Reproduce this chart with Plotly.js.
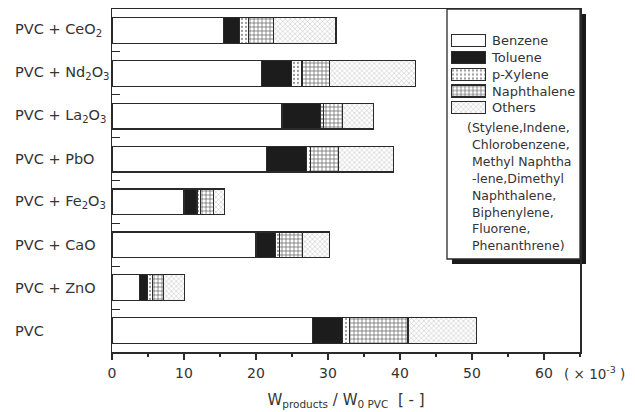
<!DOCTYPE html>
<html>
<head>
<meta charset="utf-8">
<script src="https://cdn.plot.ly/plotly-3.0.1.min.js"></script>
<style>html,body{margin:0;padding:0;background:#fff;}#chart{width:635px;height:412px;}</style>
</head>
<body>
<div id="chart"></div>
<script>
const categories = ["PVC + CeO<sub>2</sub>", "PVC + Nd<sub>2</sub>O<sub>3</sub>", "PVC + La<sub>2</sub>O<sub>3</sub>", "PVC + PbO", "PVC + Fe<sub>2</sub>O<sub>3</sub>", "PVC + CaO", "PVC + ZnO", "PVC"];
const benzene     = [15.5, 20.8, 23.6, 21.5, 10.0, 20.0, 3.8, 27.8];
const toluene     = [2.2, 4.1, 5.4, 5.5, 1.8, 2.7, 1.1, 4.2];
const pxylene     = [1.3, 1.5, 0.4, 0.6, 0.5, 0.6, 0.7, 1.0];
const naphthalene = [3.4, 3.8, 2.6, 3.9, 1.8, 3.2, 1.6, 8.1];
const others      = [8.7, 11.9, 4.3, 7.6, 1.5, 3.7, 2.9, 9.5];
const seriesNames = ["Benzene", "Toluene", "p-Xylene", "Naphthalene", "Others"];
const othersNote = ["(Stylene,Indene,", "Chlorobenzene,", "Methyl Naphtha", "-lene,Dimethyl", "Naphthalene,", "Biphenylene,", "Fluorene,", "Phenanthrene)"];
const xTickVals = [0, 10, 20, 30, 40, 50, 60];

const FONT = "DejaVu Sans, Arial, sans-serif";
const INK = "#2a2a2a";
const TXT = "#333";

const styles = [
  {color: "#ffffff", pattern: {shape: ""}},
  {color: "#1c1c1c", pattern: {shape: ""}},
  {color: "#ffffff", pattern: {shape: ".", fgcolor: "#9a9a9a", bgcolor: "#ffffff", size: 4, solidity: 0.25}},
  {color: "#ffffff", pattern: {shape: "+", fgcolor: "#555", bgcolor: "#ffffff", size: 4, solidity: 0.3}},
  {color: "#ffffff", pattern: {shape: "x", fgcolor: "#a8a8a8", bgcolor: "#ffffff", size: 3.5, solidity: 0.22}}
];
const seriesValues = [benzene, toluene, pxylene, naphthalene, others];

const traces = seriesValues.map((vals, i) => ({
  type: "bar",
  orientation: "h",
  name: seriesNames[i],
  y: categories,
  x: vals,
  width: 0.6,
  marker: {
    color: styles[i].color,
    pattern: styles[i].pattern,
    line: {color: INK, width: 1.2}
  },
  showlegend: false,
  hoverinfo: "x+name"
}));

// legend key: one full-width swatch per series on a small inset axis pair
seriesNames.forEach((name, i) => {
  traces.push({
    type: "bar", orientation: "h", xaxis: "x2", yaxis: "y2",
    y: [name], x: [1], width: 0.72,
    marker: {color: styles[i].color, pattern: styles[i].pattern, line: {color: INK, width: 1.2}},
    showlegend: false, hoverinfo: "skip"
  });
});

const L = 112, R = 580, T = 9, B = 352;
const W = R - L, H = B - T;
const px = v => (v - L) / W;
const py = v => 1 - (v - T) / H;

const annotations = categories.map(c => ({
  xref: "paper", yref: "y", x: px(13), y: c, xanchor: "left", yanchor: "middle",
  text: c, showarrow: false, font: {family: FONT, size: 14.5, color: TXT}
}));
othersNote.forEach((line, i) => {
  annotations.push({
    xref: "paper", yref: "paper", x: px(i === 0 ? 465 : 470), y: py(128 + i * 16.8),
    xanchor: "left", yanchor: "middle", text: line, showarrow: false,
    font: {family: FONT, size: 12.5, color: TXT}
  });
});
annotations.push({
  xref: "paper", yref: "paper", x: px(562), y: py(373), xanchor: "left", yanchor: "middle",
  text: "( × 10<sup>-3</sup> )", showarrow: false, font: {family: FONT, size: 13.5, color: TXT}
});

const layout = {
  width: 635, height: 412,
  margin: {l: L, r: 635 - R, t: T, b: 412 - B, pad: 0},
  paper_bgcolor: "#fff", plot_bgcolor: "rgba(0,0,0,0)",
  barmode: "stack",
  font: {family: FONT, size: 14, color: TXT},
  showlegend: false,
  xaxis: {
    range: [0, 65], tickvals: xTickVals, ticktext: xTickVals.map(String),
    ticks: "outside", ticklen: 6, tickwidth: 1.2, tickcolor: INK,
    minor: {dtick: 5, tick0: 0, ticks: "outside", ticklen: 3, tickwidth: 1.2, tickcolor: INK, showgrid: false},
    showline: true, linecolor: INK, linewidth: 1.5, mirror: true,
    showgrid: false, zeroline: false, ticklabelstandoff: 2,
    tickfont: {family: FONT, size: 14, color: TXT},
    title: {text: "W<sub>products</sub> / W<sub>0 PVC</sub>  [ - ]", font: {family: FONT, size: 15, color: TXT}, standoff: 14}
  },
  yaxis: {
    type: "category", categoryorder: "array", categoryarray: categories,
    range: [7.5, -0.5],
    showticklabels: false,
    ticks: "inside", tickson: "boundaries", ticklen: 8, tickwidth: 1, tickcolor: INK,
    showline: true, linecolor: INK, linewidth: 1.5, mirror: true,
    showgrid: false, zeroline: false
  },
  xaxis2: {
    domain: [px(451), px(486)], anchor: "y2", range: [0, 1],
    visible: false, fixedrange: true
  },
  yaxis2: {
    domain: [py(116), py(32.5)], anchor: "x2", side: "right",
    type: "category", categoryorder: "array", categoryarray: seriesNames,
    range: [4.5, -0.5], showline: false, showgrid: false, zeroline: false, ticks: "",
    ticklabelstandoff: 5, tickfont: {family: FONT, size: 13, color: TXT}, fixedrange: true
  },
  shapes: [
    {type: "rect", xref: "paper", yref: "paper", x0: px(452), x1: px(586), y0: py(264), y1: py(14),
     fillcolor: "#1a1a1a", line: {width: 0}, layer: "below"},
    {type: "rect", xref: "paper", yref: "paper", x0: px(447), x1: px(580), y0: py(259), y1: py(9),
     fillcolor: "#ffffff", line: {color: INK, width: 1.3}, layer: "below"}
  ],
  annotations: annotations
};

Plotly.newPlot("chart", traces, layout, {staticPlot: true, displayModeBar: false});
</script>
</body>
</html>
